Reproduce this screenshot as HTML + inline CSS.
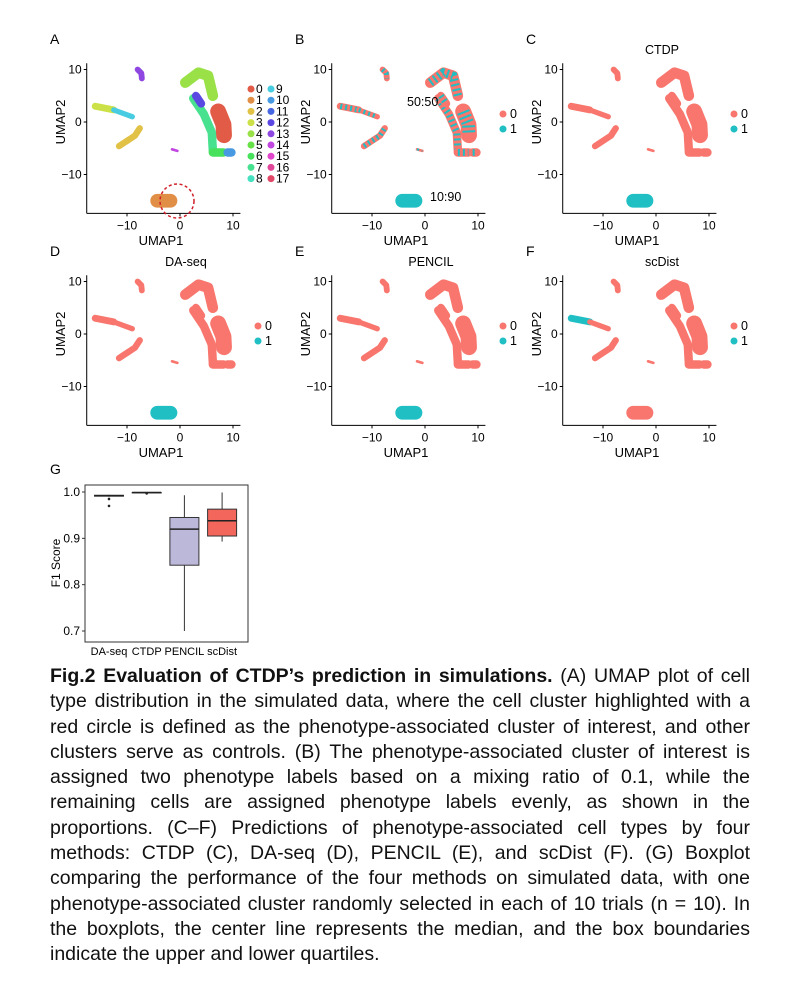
<!DOCTYPE html>
<html><head><meta charset="utf-8">
<style>
body{margin:0;background:#fff;width:802px;height:1000px;position:relative;overflow:hidden;font-family:"Liberation Sans",Arial,sans-serif;}
svg{position:absolute;left:0;top:0}
#cap{position:absolute;left:50px;top:664px;width:700px}
.ln{height:25.3px;line-height:25.3px;font-size:19.5px;white-space:nowrap;transform-origin:0 50%;color:#111;display:block;width:max-content}
</style></head>
<body>
<svg id="fig" width="802" height="660" font-family="Liberation Sans, Arial, sans-serif"></svg>
<div id="cap">
<div class="ln"><b>Fig.2 Evaluation of CTDP’s prediction in simulations.</b> (A) UMAP plot of cell</div>
<div class="ln">type distribution in the simulated data, where the cell cluster highlighted with a</div>
<div class="ln">red circle is defined as the phenotype-associated cluster of interest, and other</div>
<div class="ln">clusters serve as controls. (B) The phenotype-associated cluster of interest is</div>
<div class="ln">assigned two phenotype labels based on a mixing ratio of 0.1, while the</div>
<div class="ln">remaining cells are assigned phenotype labels evenly, as shown in the</div>
<div class="ln">proportions. (C–F) Predictions of phenotype-associated cell types by four</div>
<div class="ln">methods: CTDP (C), DA-seq (D), PENCIL (E), and scDist (F). (G) Boxplot</div>
<div class="ln">comparing the performance of the four methods on simulated data, with one</div>
<div class="ln">phenotype-associated cluster randomly selected in each of 10 trials (n = 10). In</div>
<div class="ln">the boxplots, the center line represents the median, and the box boundaries</div>
<div class="ln">indicate the upper and lower quartiles.</div>
</div>
<script>
// Box plot data
const boxCats=["DA-seq","CTDP","PENCIL","scDist"];
const boxMin=[0.990,0.998,0.700,0.893];
const boxQ1=[0.991,0.998,0.842,0.905];
const boxMed=[0.992,0.999,0.920,0.938];
const boxQ3=[0.993,0.999,0.945,0.963];
const boxMax=[0.994,1.000,0.993,0.999];
const boxOutliers=[[0.985,0.970],[0.997],[],[]];
const boxFill=["#ffffff","#ffffff","#bcb8da","#f2665c"];
const boxTicks=[0.7,0.8,0.9,1.0];
const umapTicks=[-10,0,10];
const legendA=["0","1","2","3","4","5","6","7","8","9","10","11","12","13","14","15","16","17"];

const NS="http://www.w3.org/2000/svg",svg=document.getElementById('fig');
function el(t,a,p){const e=document.createElementNS(NS,t);for(const k in a)e.setAttribute(k,a[k]);(p||svg).appendChild(e);return e;}
function txt(s,a,p){const e=el('text',a,p);e.textContent=s;return e;}
const hue=i=>`hsl(${(8+i*20)%360},72%,58%)`;
const SAL="#f8766d",TEAL="#1fbfc4";

const shapes={
 armTip:[[[-16,3],[-12.5,2.3]],1.3],
 armRest:[[[-12.5,2.3],[-9,1]],1.0],
 lowerArm:[[[-11.5,-4.6],[-8.5,-2.6],[-7.6,-1.2]],1.2],
 top:[[[-8,10],[-7.3,9.3],[-7.2,8.3]],1.1],
 loopTop:[[[1,7.5],[3.5,9.4],[5.3,8.8],[6.2,5]],2.0],
 salmonLobe:[[[7.2,2],[8.2,-0.5],[8.3,-2.5]],3.0],
 leftDesc:[[[2.5,4.5],[4.5,1.5],[6,-2],[6.2,-5.5]],1.6],
 blueBit:[[[3,5],[4,3.5]],1.5],
 bottomR:[[[6.2,-5.8],[8.2,-5.8]],1.6],
 blueEnd:[[[9,-5.8],[9.7,-5.8]],1.6],
 center:[[[-1.5,-5.2],[-0.5,-5.5]],0.5],
 bottom:[[[-4.3,-15],[-1.8,-15]],2.6]
};
function umap(ox,oy,letter,title,colorFn,legend,id){
 const sx=5.3,sy=5.25,X=v=>ox+v*sx,Y=v=>oy-v*sy;
 const g=el('g',{});
 
 
 txt(letter,{x:ox-130,y:oy-78,'font-size':14},g);
 if(title)txt(title,{x:ox+6,y:oy-68,'font-size':12.5,'text-anchor':'middle'},g);
 for(const k in shapes){const [pts,w]=shapes[k];const c=colorFn(k);
  const d=pts.map((p,i)=>(i?'L':'M')+X(p[0])+' '+Y(p[1])).join('');
  const pe=el('path',{d,stroke:c.c,'stroke-width':w*sx,'stroke-linecap':'round','stroke-linejoin':'round',fill:'none'},g);
  
  if(c.mix){el('path',{d,stroke:c.mix,'stroke-width':w*sx*0.8,'stroke-dasharray':'2 3','stroke-linecap':'butt',fill:'none'},g);}
 }
 const ax=Y(-17.4);
 el('line',{x1:X(-17.6),y1:ax,x2:X(11.4),y2:ax,stroke:'#000','stroke-width':1},g);
 el('line',{x1:X(-17.6),y1:ax,x2:X(-17.6),y2:Y(11.2),stroke:'#000','stroke-width':1},g);
 umapTicks.forEach(t=>{
  el('line',{x1:X(t),x2:X(t),y1:ax,y2:ax+3,stroke:'#000'},g);
  txt(String(t).replace('-','−'),{x:X(t),y:ax+16,'font-size':12,'text-anchor':'middle'},g);
  el('line',{x1:X(-17.6)-3,x2:X(-17.6),y1:Y(t),y2:Y(t),stroke:'#000'},g);
  txt(String(t).replace('-','−'),{x:X(-17.6)-5,y:Y(t)+4,'font-size':12,'text-anchor':'end'},g);
 });
 txt('UMAP1',{x:ox-19,y:oy+123,'font-size':13,'text-anchor':'middle'},g);
 txt('UMAP2',{x:0,y:0,'font-size':13,'text-anchor':'middle',transform:`translate(${ox-115},${oy}) rotate(-90)`},g);
 legend(g,ox,oy);
}
function leg01(g,ox,oy){
 [["0",SAL],["1",TEAL]].forEach((l,i)=>{el('circle',{cx:ox+78,cy:oy-8+i*15,r:3.5,fill:l[1]},g);txt(l[0],{x:ox+85,y:oy-4+i*15,'font-size':12.5},g);});
}
const colA={armTip:hue(3),armRest:hue(9),lowerArm:hue(2),top:hue(13),loopTop:hue(4),salmonLobe:hue(0),leftDesc:hue(7),blueBit:hue(12),bottomR:hue(6),blueEnd:hue(10),center:hue(14),bottom:hue(1)};
umap(180,122,'A',null,k=>({c:colA[k]}),(g,ox,oy)=>{
 legendA.forEach((l,i)=>{const c=Math.floor(i/9),r=i%9;
  el('circle',{cx:ox+71+c*20,cy:oy-33+r*11.2,r:3.5,fill:hue(i)},g);
  txt(l,{x:ox+76+c*20,y:oy-29+r*11.2,'font-size':12},g);});
 el('circle',{cx:ox-3,cy:oy+79,r:17,fill:'none',stroke:'#d0202a','stroke-width':1.5,'stroke-dasharray':'3 2.5'},g);
},'a');
umap(425,122,'B',null,k=>k=='bottom'?{c:TEAL}:{c:SAL,mix:TEAL},(g,ox,oy)=>{leg01(g,ox,oy);
 txt('50:50',{x:ox-18,y:oy-16,'font-size':12.5},g);txt('10:90',{x:ox+5,y:oy+79,'font-size':12.5},g);},'b');
umap(656,122,'C','CTDP',k=>({c:k=='bottom'?TEAL:SAL}),leg01,'c');
umap(180,334,'D','DA-seq',k=>({c:k=='bottom'?TEAL:SAL}),leg01,'d');
umap(425,334,'E','PENCIL',k=>({c:k=='bottom'?TEAL:SAL}),leg01,'e');
umap(656,334,'F','scDist',k=>({c:k=='armTip'?TEAL:SAL}),leg01,'f');

// Box plot G
const bg=el('g',{});
txt('G',{x:50,y:474,'font-size':14},bg);
const L=85,R=248,T=485,B=642,yv=v=>492+(1-v)/0.3*139,xc=i=>109+i*37.7;
el('rect',{x:L,y:T,width:R-L,height:B-T,fill:'none',stroke:'#333','stroke-width':1},bg);
boxTicks.forEach(t=>{el('line',{x1:L-3,x2:L,y1:yv(t),y2:yv(t),stroke:'#333'},bg);
 txt(t.toFixed(1),{x:L-5,y:yv(t)+4,'font-size':12,'text-anchor':'end'},bg);});
txt('F1 Score',{x:0,y:0,'font-size':12,'text-anchor':'middle',transform:'translate(60,563) rotate(-90)'},bg);
boxCats.forEach((c,i)=>{const x=xc(i),w=29;
 const bb=el('g',{},bg);
 el('line',{x1:x,x2:x,y1:yv(boxMax[i]),y2:yv(boxMin[i]),stroke:'#333'},bb);
 el('rect',{x:x-w/2,y:yv(boxQ3[i]),width:w,height:Math.max(yv(boxQ1[i])-yv(boxQ3[i]),0.5),fill:boxFill[i],stroke:'#333','stroke-width':1},bb);
 el('line',{x1:x-w/2,x2:x+w/2,y1:yv(boxMed[i]),y2:yv(boxMed[i]),stroke:'#222','stroke-width':1.5},bb);
 boxOutliers[i].forEach(o=>el('circle',{cx:x,cy:yv(o),r:1.3,fill:'#222'},bb));
 txt(c,{x:x,y:B+13,'font-size':11,'text-anchor':'middle'},bb);
});

const lines=[...document.querySelectorAll('.ln')];
lines.forEach((d,i)=>{});
const last=lines[lines.length-1];
const S=Math.min(1,355/last.getBoundingClientRect().width);
lines.forEach((d,i)=>{
 if(i<lines.length-1){const w=d.getBoundingClientRect().width;const n=(d.textContent.match(/ /g)||[]).length;
  const ws=Math.max((700/S-w)/n,-3);d.style.wordSpacing=ws+'px';
  const w2=d.getBoundingClientRect().width;d.style.transform=`scaleX(${700/w2})`;}
 else d.style.transform=`scaleX(${S})`;
});
</script>
</body></html>
